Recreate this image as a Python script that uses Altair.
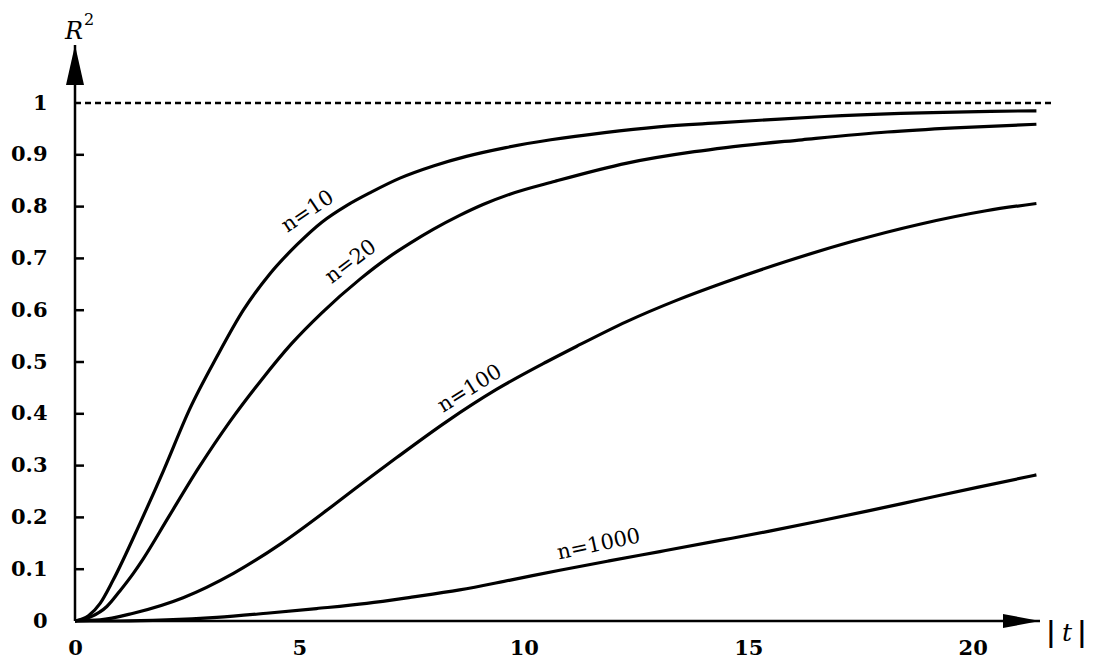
import altair as alt
import pandas as pd

# ---- data ----
t_n10 = [0, 0.3, 0.56, 0.85, 1.45, 1.97, 2.56, 3.16, 3.75, 4.34, 4.94, 5.5, 6.05, 6.6, 7.24, 8.0, 8.72, 9.6, 10.6, 11.8, 13.0, 14.4, 15.5, 16.7, 18.4, 20.4, 21.42]
r_n10 = [0, 0.01, 0.034, 0.079, 0.189, 0.29, 0.41, 0.51, 0.600, 0.670, 0.726, 0.770, 0.802, 0.828, 0.855, 0.879, 0.897, 0.914, 0.929, 0.943, 0.954, 0.962, 0.968, 0.974, 0.980, 0.984, 0.985]

t_n20 = [0, 0.35, 0.71, 1.0, 1.3, 1.52, 2.08, 2.75, 3.45, 4.15, 4.82, 5.5, 6.35, 7.0, 7.46, 7.98, 8.57, 9.09, 9.69, 10.7, 12.3, 13.8, 14.5, 16.2, 18.1, 19.6, 21.42]
r_n20 = [0, 0.008, 0.028, 0.058, 0.092, 0.12, 0.20, 0.295, 0.385, 0.465, 0.535, 0.595, 0.660, 0.703, 0.729, 0.756, 0.783, 0.804, 0.824, 0.849, 0.884, 0.906, 0.914, 0.929, 0.944, 0.952, 0.959]

t_n100 = [0, 0.56, 1.3, 2.41, 3.53, 4.6, 5.75, 6.6, 7.16, 8.28, 9.39, 10.5, 11.17, 12.29, 13.4, 14.45, 15.84, 17.33, 18.82, 20.3, 21.42]
r_n100 = [0, 0.002, 0.015, 0.045, 0.092, 0.150, 0.223, 0.279, 0.315, 0.385, 0.447, 0.500, 0.530, 0.578, 0.619, 0.653, 0.694, 0.733, 0.766, 0.792, 0.806]

t_n1000 = [0, 1.0, 2.04, 3.16, 4.27, 5.38, 6.5, 7.5, 8.57, 9.7, 10.8, 11.9, 13.03, 14.4, 15.5, 16.59, 17.7, 18.82, 20.1, 21.42]
r_n1000 = [0, 0.0, 0.002, 0.007, 0.015, 0.024, 0.034, 0.046, 0.060, 0.079, 0.098, 0.116, 0.134, 0.156, 0.174, 0.193, 0.213, 0.234, 0.258, 0.282]

series_names = ["n=10", "n=20", "n=100", "n=1000"]
label_t = [5.19, 6.15, 8.8, 11.67]
label_r = [0.790, 0.693, 0.448, 0.147]
label_angle = [326, 323, 328, 348]

x_tick_values = [0, 5, 10, 15, 20]
y_tick_values = [0, 0.1, 0.2, 0.3, 0.4, 0.5, 0.6, 0.7, 0.8, 0.9, 1]
y_minor_ticks = [0.1, 0.2, 0.3, 0.4, 0.5, 0.6, 0.7, 0.8, 0.9]
asymptote = [1]
dash_end = [21.78]

# ---- layout ----
XMAX = 21.5
YMAX = 1.112
W = 965
H = 576
FONT = "DejaVu Serif"

rows = []
for name, ts, rs in zip(series_names, [t_n10, t_n20, t_n100, t_n1000], [r_n10, r_n20, r_n100, r_n1000]):
    for t, r in zip(ts, rs):
        rows.append({"t": t, "r2": r, "n": name})
df = pd.DataFrame(rows)

xs = alt.Scale(domain=[0, XMAX], nice=False, zero=False)
ys = alt.Scale(domain=[0, YMAX], nice=False, zero=False)

x_axis = alt.Axis(values=x_tick_values, ticks=False, domain=False, grid=False,
                  labelFont=FONT, labelFontSize=21, labelFontWeight="bold",
                  labelColor="black", labelPadding=16, title=None,
                  labelFlush=False, labelOverlap=False)
y_axis = alt.Axis(values=y_tick_values, format=".1~f", ticks=False, domain=False,
                  grid=False, labelFont=FONT, labelFontSize=21,
                  labelFontWeight="bold", labelColor="black", labelPadding=28,
                  title=None, labelFlush=False, labelOverlap=False)


def X(field):
    return alt.X(field, scale=xs, axis=x_axis)


def Y(field):
    return alt.Y(field, scale=ys, axis=y_axis)


curves = alt.Chart(df).mark_line(color="black", strokeWidth=3.2, interpolate="monotone", clip=False).encode(
    x=X("t:Q"), y=Y("r2:Q"), detail="n:N",
)

# axes lines
xaxis_df = pd.DataFrame({"x0": [0], "x1": [XMAX], "y": [0]})
xaxis = alt.Chart(xaxis_df).mark_rule(color="black", strokeWidth=2.5).encode(
    x=X("x0:Q"), x2="x1:Q", y=Y("y:Q"))
yaxis_df = pd.DataFrame({"x": [0], "y0": [0], "y1": [YMAX]})
yaxis = alt.Chart(yaxis_df).mark_rule(color="black", strokeWidth=2.5).encode(
    x=X("x:Q"), y=Y("y0:Q"), y2="y1:Q")

# inward ticks on y axis
ticks_df = pd.DataFrame({"v": y_minor_ticks})
yticks = alt.Chart(ticks_df).mark_rule(color="black", strokeWidth=2.5).encode(
    x=alt.value(0), x2=alt.value(9), y=Y("v:Q"))

# arrowheads
up_arrow = alt.Chart(pd.DataFrame({"x": [0], "y": [YMAX]})).mark_point(
    shape="M0,-1L0.45,1L-0.45,1Z", size=1600, filled=True, color="black", opacity=1, yOffset=20
).encode(x=X("x:Q"), y=Y("y:Q"))
right_arrow = alt.Chart(pd.DataFrame({"x": [XMAX], "y": [0]})).mark_point(
    shape="M1,0L-1,-0.38L-1,0.38Z", size=1369, filled=True, color="black", opacity=1, xOffset=-18.5
).encode(x=X("x:Q"), y=Y("y:Q"))

# dashed asymptote
dash_df = pd.DataFrame({"x0": [0], "x1": dash_end, "y": asymptote})
dashed = alt.Chart(dash_df).mark_rule(color="black", strokeWidth=2.5, strokeDash=[6, 4]).encode(
    x=X("x0:Q"), x2="x1:Q", y=Y("y:Q"))

# curve labels
lab_df = pd.DataFrame({"t": label_t, "r2": label_r, "txt": series_names, "ang": label_angle})
labels = alt.Chart(lab_df).mark_text(font=FONT, fontSize=21, color="black", align="center", baseline="middle").encode(
    x=X("t:Q"), y=Y("r2:Q"), text="txt:N", angle=alt.Angle("ang:Q", scale=None))

# axis titles
ytitle_df = pd.DataFrame({"x": [0], "y": [YMAX]})
r_txt = alt.Chart(ytitle_df).mark_text(text="R", font=FONT, fontSize=24, fontStyle="italic", color="black",
                                       align="center", baseline="middle", dx=-1, dy=-13).encode(
    x=X("x:Q"), y=Y("y:Q"))
r_sup = alt.Chart(ytitle_df).mark_text(text="2", font=FONT, fontSize=16, color="black",
                                       align="center", baseline="middle", dx=14, dy=-25).encode(
    x=X("x:Q"), y=Y("y:Q"))

xtitle_df = pd.DataFrame({"x": [XMAX], "y": [0]})
bar1 = alt.Chart(xtitle_df).mark_text(text="|", font=FONT, fontSize=27, fontWeight="bold", color="black",
                                      align="center", baseline="middle", dx=11, dy=12).encode(
    x=X("x:Q"), y=Y("y:Q"))
t_txt = alt.Chart(xtitle_df).mark_text(text="t", font=FONT, fontSize=25, fontStyle="italic", color="black",
                                       align="center", baseline="middle", dx=27, dy=12).encode(
    x=X("x:Q"), y=Y("y:Q"))
bar2 = alt.Chart(xtitle_df).mark_text(text="|", font=FONT, fontSize=27, fontWeight="bold", color="black",
                                      align="center", baseline="middle", dx=42, dy=12).encode(
    x=X("x:Q"), y=Y("y:Q"))

chart = alt.layer(
    dashed, xaxis, yaxis, yticks, curves, up_arrow, right_arrow, labels, r_txt, r_sup, bar1, t_txt, bar2
).properties(
    width=W, height=H,
    padding={"left": 67, "top": 37, "right": 50, "bottom": 40},
    autosize=alt.AutoSizeParams(type="none"),
    background="white",
).configure_view(strokeWidth=0, stroke="transparent")

chart.save("out.html", embed_options={"renderer": "svg", "actions": False})
